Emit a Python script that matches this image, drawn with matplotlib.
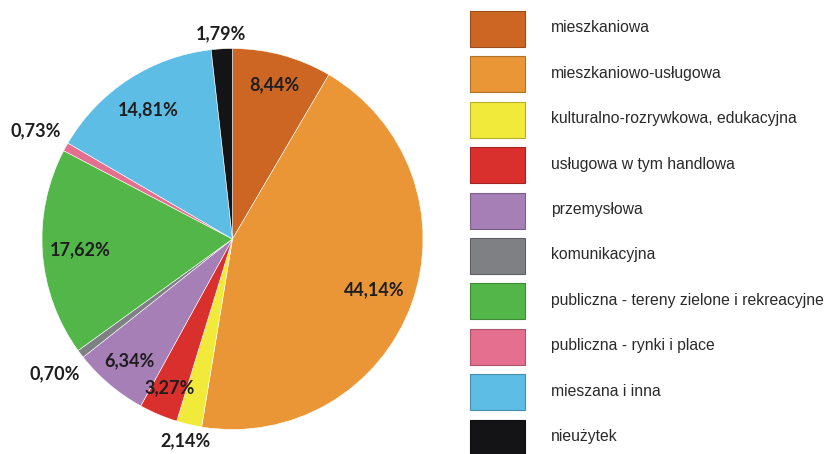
import numpy as np
import matplotlib
matplotlib.use("Agg")
import matplotlib.pyplot as plt
from matplotlib.patches import Rectangle
import matplotlib.colors as mcolors

categories = [
    "mieszkaniowa",
    "mieszkaniowo-usługowa",
    "kulturalno-rozrywkowa, edukacyjna",
    "usługowa w tym handlowa",
    "przemysłowa",
    "komunikacyjna",
    "publiczna - tereny zielone i rekreacyjne",
    "publiczna - rynki i place",
    "mieszana i inna",
    "nieużytek",
]
shares = [8.44, 44.14, 2.14, 3.27, 6.34, 0.70, 17.62, 0.73, 14.81, 1.79]
colors = ["#CC6622", "#EA9636", "#F2EA3B", "#D9302D", "#A57FB5",
          "#7F8084", "#52B648", "#E56F8F", "#5EBDE5", "#141416"]
# label distance as a fraction of the radius (small slices sit outside)
label_r = [0.84, 0.79, 1.09, 0.85, 0.84, 1.17, 0.80, 1.18, 0.81, 1.08]

W, H = 825, 454
fig = plt.figure(figsize=(W / 100, H / 100), dpi=100)
ax = fig.add_axes([0, 0, 1, 1])

cx, cy, R = 232.5, H - 239, 190.5
wedges, _ = ax.pie(shares, colors=colors, startangle=90, counterclock=False,
                   center=(cx, cy), radius=R,
                   wedgeprops=dict(edgecolor="white", linewidth=0.4))

for w, val, lr in zip(wedges, shares, label_r):
    ang = np.deg2rad((w.theta1 + w.theta2) / 2)
    r = R * lr
    ax.text(cx + r * np.cos(ang), cy + r * np.sin(ang),
            f"{val:.2f}%".replace(".", ","),
            ha="center", va="center", fontsize=13, fontweight="bold",
            family="Lato", color="#1e1e1e")

# legend drawn by hand
box_x, box_w, box_h = 470, 55, 36
top, step = 11, 45.4
for i, (name, c) in enumerate(zip(categories, colors)):
    y0 = top + i * step
    edge = tuple(v * 0.75 for v in mcolors.to_rgb(c))
    ax.add_patch(Rectangle((box_x, H - y0 - box_h), box_w, box_h,
                           facecolor=c, edgecolor=edge, linewidth=0.8))
    ax.text(551, H - y0 - box_h / 2 + 1, name, ha="left", va="center",
            fontsize=11.3, family="Liberation Sans", color="#2a2a2a")

ax.set_xlim(0, W)
ax.set_ylim(0, H)
ax.set_aspect("equal")
ax.axis("off")

fig.savefig("out.png", dpi=100, facecolor="white")
